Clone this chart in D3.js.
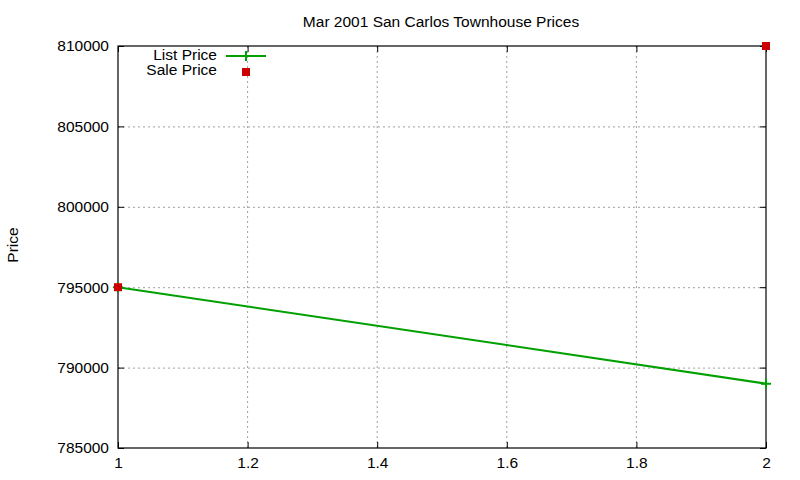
<!DOCTYPE html>
<html>
<head>
<meta charset="utf-8">
<script src="https://cdn.jsdelivr.net/npm/d3@7"></script>
<style>
  body { margin: 0; background: #fff; }
  text { font-family: "Liberation Sans", Arial, sans-serif; font-size: 15.5px; fill: #000; }
</style>
</head>
<body>
<div id="chart"></div>
<script>
var listX = [1, 2];
var listPrice = [795000, 789000];
var saleX = [1, 2];
var salePrice = [795000, 810000];
var xTicks = [1, 1.2, 1.4, 1.6, 1.8, 2];
var yTicks = [785000, 790000, 795000, 800000, 805000, 810000];

function init() {
    var w = 800, h = 480;
    var left = 118, right = 766, top = 46, bottom = 448;

    var xScale = d3.scaleLinear().domain([1, 2]).range([left, right]);
    var yScale = d3.scaleLinear().domain([785000, 810000]).range([bottom, top]);

    var svg = d3.select("#chart").append("svg")
        .attr("width", w).attr("height", h);

    // grid
    svg.selectAll("line.gx").data(xTicks.slice(1, -1)).enter().append("line")
        .attr("x1", function(d) { return xScale(d); })
        .attr("x2", function(d) { return xScale(d); })
        .attr("y1", top).attr("y2", bottom)
        .attr("stroke", "#a0a0a0").attr("stroke-width", 1).attr("stroke-dasharray", "2,3");
    svg.selectAll("line.gy").data(yTicks.slice(1, -1)).enter().append("line")
        .attr("y1", function(d) { return yScale(d) + 0.5; })
        .attr("y2", function(d) { return yScale(d) + 0.5; })
        .attr("x1", left).attr("x2", right)
        .attr("stroke", "#a0a0a0").attr("stroke-width", 1).attr("stroke-dasharray", "2,3");

    // axes (inward ticks, mirrored)
    var xAxisB = d3.axisBottom(xScale).tickValues(xTicks).tickSize(-6).tickPadding(9)
        .tickFormat(function(d) { return d3.format("")(d); });
    svg.append("g").attr("transform", "translate(0," + bottom + ")").call(xAxisB);
    var xAxisT = d3.axisTop(xScale).tickValues(xTicks).tickSize(-6).tickFormat("");
    svg.append("g").attr("transform", "translate(0," + top + ")").call(xAxisT);
    var yAxisL = d3.axisLeft(yScale).tickValues(yTicks).tickSize(-6).tickPadding(9)
        .tickFormat(d3.format("d"));
    svg.append("g").attr("transform", "translate(" + left + ",0)").call(yAxisL);
    var yAxisR = d3.axisRight(yScale).tickValues(yTicks).tickSize(-6).tickFormat("");
    svg.append("g").attr("transform", "translate(" + right + ",0)").call(yAxisR);

    svg.selectAll(".domain").remove();
    svg.selectAll(".tick line").attr("stroke", "#000");
    svg.selectAll(".tick text").style("font-size", "15.5px").attr("fill", "#000");

    svg.append("rect")
        .attr("x", left).attr("y", top)
        .attr("width", right - left).attr("height", bottom - top)
        .attr("fill", "none").attr("stroke", "#000").attr("stroke-width", 1.2);

    // list price line
    var line = d3.line()
        .x(function(d, i) { return xScale(listX[i]); })
        .y(function(d) { return yScale(d); });
    svg.append("path").datum(listPrice)
        .attr("d", line)
        .attr("fill", "none").attr("stroke", "#00a000").attr("stroke-width", 2);
    svg.selectAll("g.plus").data(listPrice).enter().append("path")
        .attr("d", function(d, i) {
            var x = xScale(listX[i]), y = yScale(d);
            return "M" + (x - 5) + "," + y + "H" + (x + 5) + "M" + x + "," + (y - 5) + "V" + (y + 5);
        })
        .attr("stroke", "#00a000").attr("stroke-width", 2);

    // sale price points
    svg.selectAll("rect.sale").data(salePrice).enter().append("rect")
        .attr("x", function(d, i) { return xScale(saleX[i]) - 4; })
        .attr("y", function(d) { return yScale(d) - 4; })
        .attr("width", 8).attr("height", 8)
        .attr("fill", "#cc0000");

    // legend
    svg.append("text").attr("x", 217).attr("y", 60).attr("text-anchor", "end").text("List Price");
    svg.append("line").attr("x1", 226).attr("x2", 266).attr("y1", 56).attr("y2", 56)
        .attr("stroke", "#00a000").attr("stroke-width", 2);
    svg.append("path").attr("d", "M246,51V61").attr("stroke", "#00a000").attr("stroke-width", 2);
    svg.append("text").attr("x", 217).attr("y", 75).attr("text-anchor", "end").text("Sale Price");
    svg.append("rect").attr("x", 242).attr("y", 68).attr("width", 8).attr("height", 8).attr("fill", "#cc0000");

    // title and axis label
    svg.append("text").attr("x", 441).attr("y", 27).attr("text-anchor", "middle")
        .text("Mar 2001 San Carlos Townhouse Prices");
    svg.append("text").attr("transform", "translate(18,245) rotate(-90)")
        .attr("text-anchor", "middle").text("Price");
}

window.onload = init;
</script>
</body>
</html>
